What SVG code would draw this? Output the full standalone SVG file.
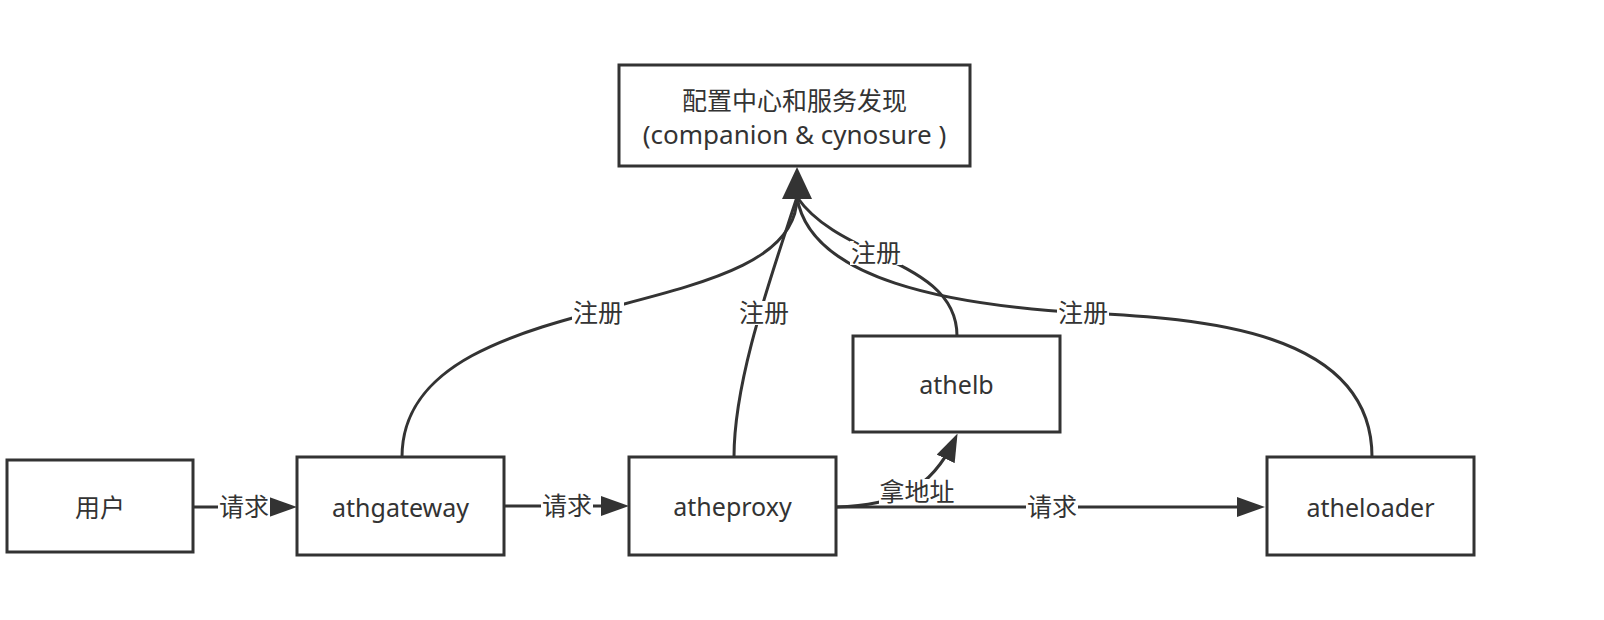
<svg xmlns="http://www.w3.org/2000/svg" width="1604" height="620" viewBox="0 0 1604 620">
<style>
.box{fill:#fff;stroke:#333;stroke-width:3}
.t{font-family:"Noto Sans","Noto Sans CJK SC",sans-serif;font-size:25px;fill:#333;text-anchor:middle}
.tc{font-size:26px}
.e{fill:none;stroke:#333;stroke-width:3}
.lb{fill:#fff}
.l{font-family:"Noto Sans CJK SC","Noto Sans",sans-serif;font-size:25px;fill:#333;text-anchor:middle}
</style>
<defs>
<marker id="arr" markerUnits="userSpaceOnUse" markerWidth="28" markerHeight="20" viewBox="0 0 28 20" refX="22" refY="10" orient="auto">
<path d="M0,0 L28,10 L0,20 z" fill="#333"/>
</marker>
</defs>
<rect width="1604" height="620" fill="#fff"/>
<g id="connectors">
<path class="e" d="M402,457 C402,280 797,330 797,197"/>
<path class="e" d="M734,457 C734,380 770,280 797,197"/>
<path class="e" d="M957,336 C957,260 840,260 797,197"/>
<path class="e" d="M1372,457 C1372,330 1200,318 1083,313 C950,305 810,280 797,197"/>
<polygon points="797,167 782,199 812,199" fill="#333"/>
<path class="e" d="M193,507 H291" marker-end="url(#arr)"/>
<path class="e" d="M504,506 H623" marker-end="url(#arr)"/>
<path class="e" d="M836,507 H1259" marker-end="url(#arr)"/>
<path class="e" d="M836,507 C895,505 930,492 955,439" marker-end="url(#arr)"/>
<g id="labels">
<rect class="lb" x="572" y="301" width="52" height="24"/><text class="l" x="598" y="322">注册</text>
<rect class="lb" x="738" y="301" width="52" height="24"/><text class="l" x="764" y="322">注册</text>
<rect class="lb" x="850" y="241" width="52" height="24"/><text class="l" x="876" y="262">注册</text>
<rect class="lb" x="1057" y="301" width="52" height="24"/><text class="l" x="1083" y="322">注册</text>
<rect class="lb" x="218" y="495" width="52" height="24"/><text class="l" x="244" y="516">请求</text>
<rect class="lb" x="541" y="494" width="52" height="24"/><text class="l" x="567" y="515">请求</text>
<rect class="lb" x="1026" y="495" width="52" height="24"/><text class="l" x="1052" y="516">请求</text>
<rect class="lb" x="879" y="479" width="77" height="25"/><text class="l" x="917" y="501">拿地址</text>
</g>
</g>
<g id="node-config"><rect class="box" x="619" y="65" width="351" height="101"/><text class="l tc" x="794.5" y="110">配置中心和服务发现</text><text class="t tc" x="794.5" y="144">(companion &amp; cynosure )</text></g>
<g id="node-user"><rect class="box" x="7" y="460" width="186" height="92"/><text class="t" x="100" y="517">用户</text></g>
<g id="node-athgateway"><rect class="box" x="297" y="457" width="207" height="98"/><text class="t" x="400.5" y="517">athgateway</text></g>
<g id="node-atheproxy"><rect class="box" x="629" y="457" width="207" height="98"/><text class="t" x="732.5" y="516">atheproxy</text></g>
<g id="node-athelb"><rect class="box" x="853" y="336" width="207" height="96"/><text class="t" x="956.5" y="394">athelb</text></g>
<g id="node-atheloader"><rect class="box" x="1267" y="457" width="207" height="98"/><text class="t" x="1370.5" y="517">atheloader</text></g>
</svg>
